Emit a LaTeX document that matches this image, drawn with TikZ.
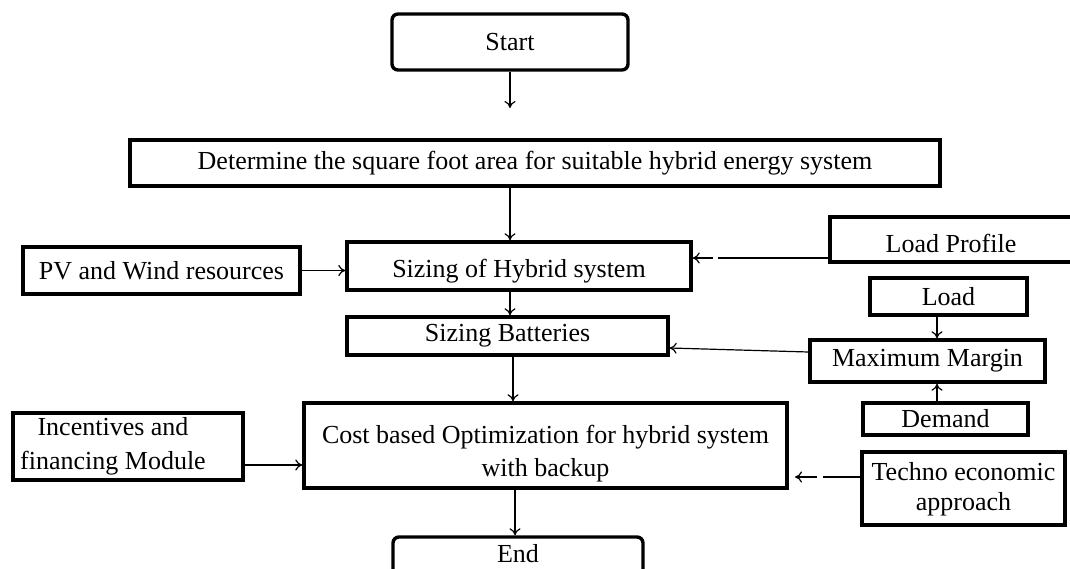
\documentclass[tikz,border=0pt]{standalone}
\usepackage{fontspec}
\setmainfont{Liberation Serif}
\usetikzlibrary{arrows.meta}
\begin{document}
\begin{tikzpicture}[x=1pt,y=-1pt,
  box/.style={draw=black,line width=3.4pt,fill=white,inner sep=0pt,align=center,
    font=\fontsize{26}{32}\selectfont},
  rbox/.style={box,rounded corners=6pt},
  txt/.style={anchor=center,align=center,font=\fontsize{26}{33}\selectfont},
  arr/.style={line width=1.2pt,-{To[length=7pt,width=11pt]}}]
\useasboundingbox (0,0) rectangle (1070,569);
\clip (0,0) rectangle (1070,569);
\fill[white] (0,0) rectangle (1070,569);
\coordinate (x510) at (510,0);
\coordinate (x513) at (513,0);
\coordinate (x515) at (515,0);
\coordinate (x937) at (937,0);
% nodes
\node[rbox,minimum width=236pt,minimum height=56pt] (start) at (510,42) {Start};
\node[box,minimum width=810pt,minimum height=46pt] (det) at (535,163) {Determine the square foot area for suitable hybrid energy system};
\node[box,minimum width=344pt,minimum height=48pt,
  label={[txt,yshift=-5pt]center:Sizing of Hybrid system}] (siz) at (519,266) {};
\node[box,minimum width=277pt,minimum height=47pt] (pv) at (161.5,270.5) {PV and Wind resources};
\node[box,minimum width=250pt,minimum height=45pt,
  label={[txt,yshift=-4pt,xshift=-4pt]center:Load Profile}] (lp) at (955,239.5) {};
\node[box,minimum width=321pt,minimum height=38pt] (bat) at (507.5,336) {Sizing Batteries};
\node[box,minimum width=157pt,minimum height=37pt] (load) at (948.5,296.5) {Load};
\node[box,minimum width=235pt,minimum height=42pt] (mm) at (927.5,361) {Maximum Margin};
\node[box,minimum width=165pt,minimum height=32pt] (dem) at (945.5,419) {Demand};
\node[box,minimum width=483pt,minimum height=85pt,
  label={[txt,yshift=-8pt]center:{Cost based Optimization for hybrid system\\with backup}}] (cost) at (545.5,445.5) {};
\node[box,minimum width=230pt,minimum height=67pt,
  label={[txt,xshift=-15pt,font=\fontsize{26}{34}\selectfont]center:{Incentives and\\financing Module}}] (inc) at (128,446.5) {};
\node[box,minimum width=203pt,minimum height=73pt,
  label={[txt,yshift=-1pt,font=\fontsize{26}{30}\selectfont]center:{Techno economic\\approach}}] (tech) at (963.5,488.5) {};
\node[rbox,minimum width=250pt,minimum height=60pt] (end) at (518,567) {};
\node[font=\fontsize{26}{32}\selectfont] (endtext) at (518,554) {End};
% free ends
\coordinate (c1) at (510,108);
\coordinate (c2) at (795,477);
\coordinate (ia) at ([yshift=-18.5pt]inc.east);
% connectors
\draw[arr] (start.south) -- (c1);
\draw[arr] (det.south -| x510) -- (siz.north -| x510);
\draw[arr] (pv.east) -- (siz.west |- pv.east);
\draw[arr,dash pattern=on 110pt off 5pt on 40pt] ([yshift=-18.5pt]lp.west) -- ([yshift=8pt]siz.east);
\draw[arr] (siz.south -| x510) -- (bat.north -| x510);
\draw[arr] ([yshift=9pt]mm.west) -- ([yshift=-12pt]bat.east);
\draw[arr] (load.south -| x937) -- (mm.north -| x937);
\draw[arr] (dem.north -| x937) -- (mm.south -| x937);
\draw[arr] (bat.south -| x513) -- (cost.north -| x513);
\draw[arr] (ia) -- (cost.west |- ia);
\draw[arr,dash pattern=on 37pt off 6pt on 40pt] ([yshift=11.5pt]tech.west) -- (c2);
\draw[arr] (cost.south -| x515) -- (end.north -| x515);
\end{tikzpicture}
\end{document}
